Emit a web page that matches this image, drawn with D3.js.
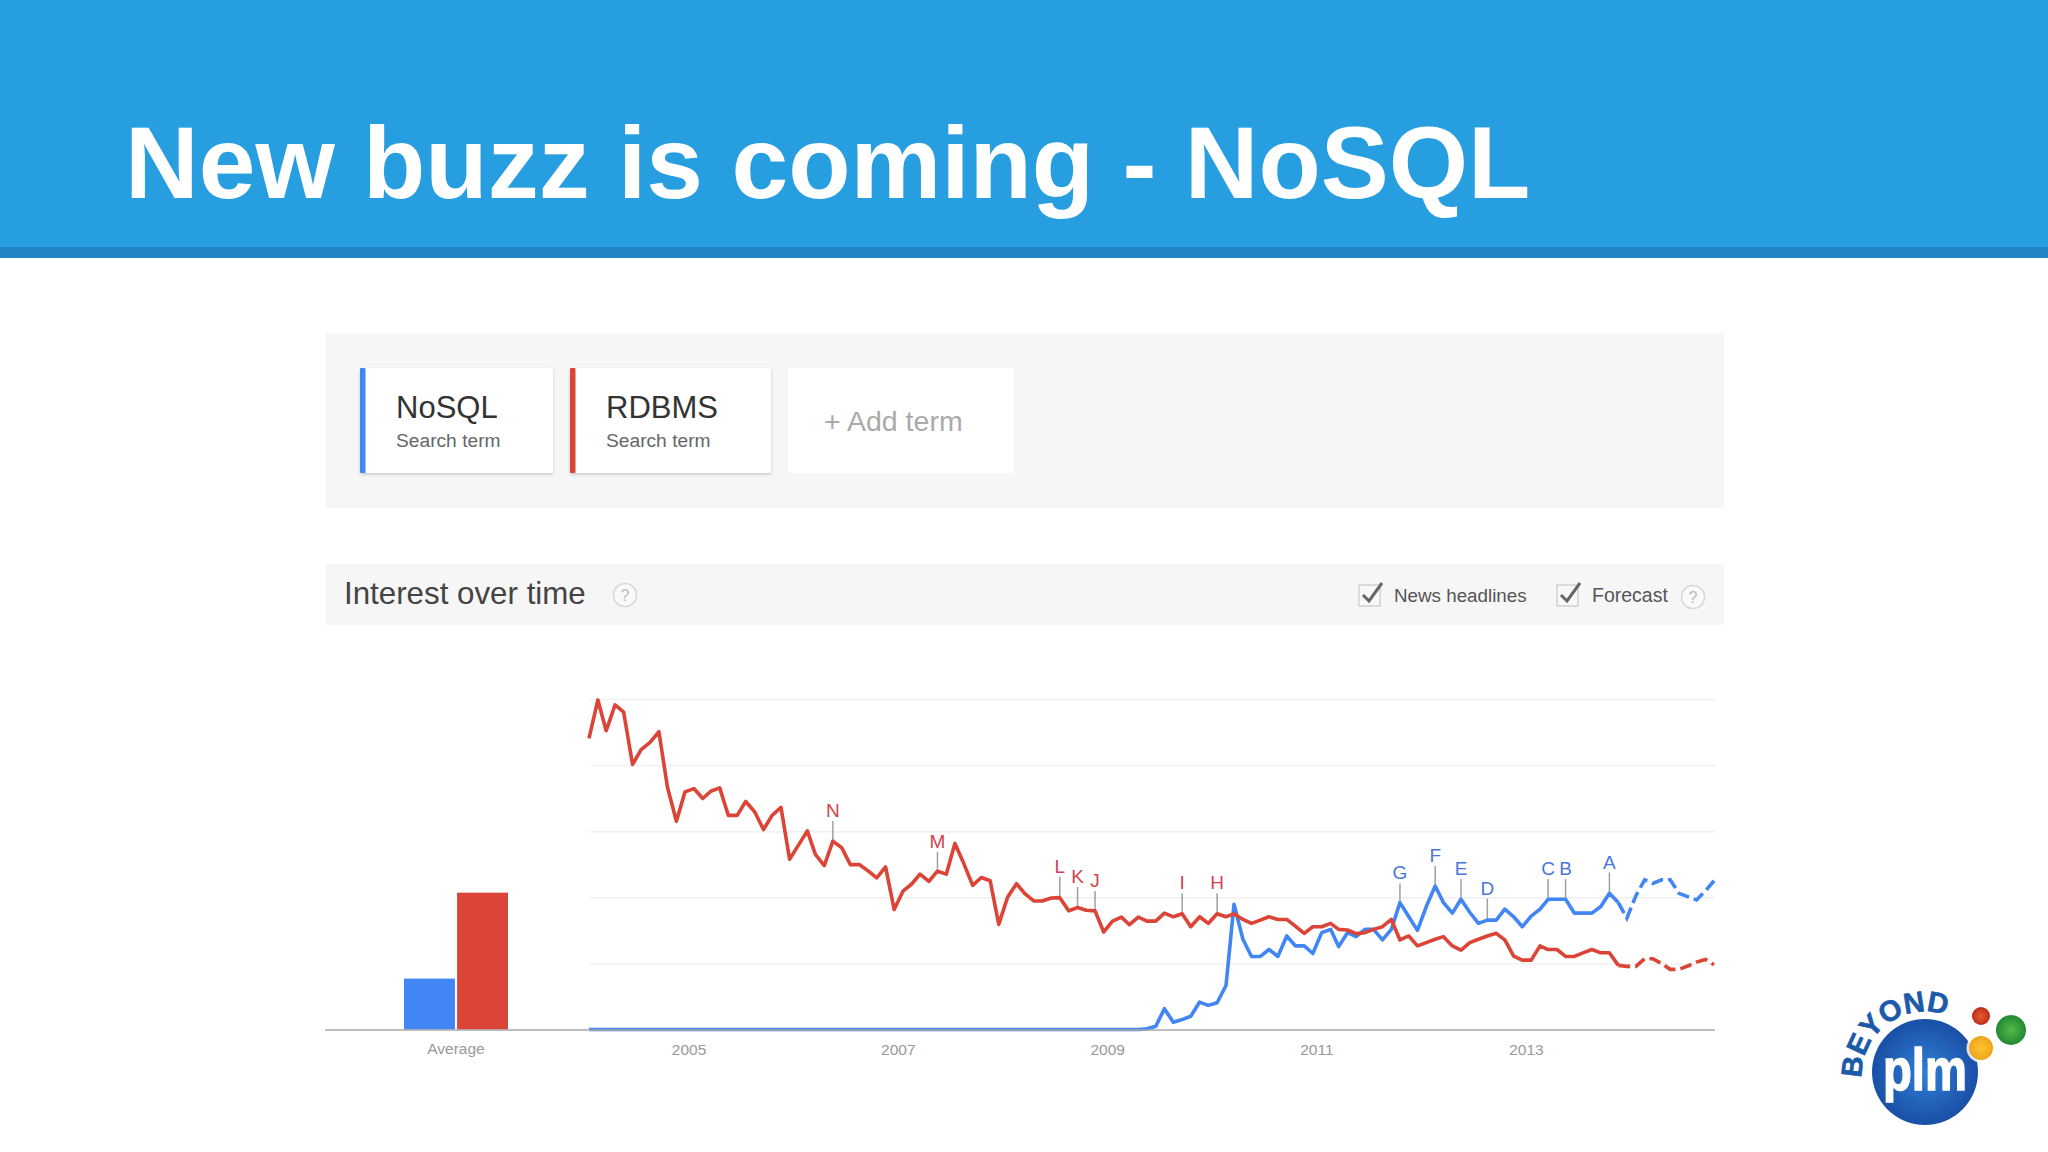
<!DOCTYPE html>
<html>
<head>
<meta charset="utf-8">
<script src="https://cdn.jsdelivr.net/npm/d3@7"></script>
<style>
  html, body { margin: 0; padding: 0; background: #fff; }
  svg { display: block; font-family: "Liberation Sans", Arial, sans-serif; }
</style>
</head>
<body>
<div id="chart"></div>
<script>
const title = "New buzz is coming - NoSQL"
const terms = ["NoSQL", "RDBMS"]
const averages = [15.4, 41.4]
const yearTicks = [2005, 2007, 2009, 2011, 2013]
const gridValues = [20, 40, 60, 80, 100]
const forecastStart = 118

// monthly values, Jan 2004 to Oct 2014
const rdbms = [
  88.1, 99.7, 90.4, 98.2, 96, 80.2, 84.7, 86.9, 90.1, 73.2, 63, 71.9,
  72.9, 69.9, 72.1, 73.1, 64.8, 64.8, 69, 65.9, 60.5, 64.8, 67.2, 51.5,
  55.8, 60.1, 53, 49.6, 57, 55, 49.9, 49.9, 48, 45.9, 49.2, 36.3,
  41.9, 44.1, 47, 44.8, 47.9, 47, 56.3, 50.2, 43.6, 46, 45, 31.8,
  40.1, 44.1, 41.1, 38.9, 38.9, 39.8, 39.9, 35.9, 36.9, 36.1, 35.9, 29.5,
  32.8, 34, 31.7, 34, 32.8, 32.8, 35.2, 34.1, 35, 31.1, 34.1, 32.1,
  35, 34.1, 35, 33.3, 32.1, 33.1, 34.1, 33.3, 33.3, 31.3, 29.1, 31.1,
  31.1, 32.1, 30.3, 30.1, 29, 29.3, 30.3, 31.1, 33.3, 27.1, 28.3, 25.3,
  26.3, 27.3, 28.1, 25.3, 24, 26.3, 27.3, 28.3, 29.1, 27.1, 22.2, 21,
  21, 25.3, 24.2, 24.2, 22.1, 22.1, 23.2, 24.2, 23.2, 23.2, 19.4, 19.1,
  19.1, 21.4, 21.4, 20, 18.2, 18.2, 19.2, 20.4, 21.2, 19.6
]
const nosql = [
  0, 0, 0, 0, 0, 0, 0, 0, 0, 0, 0, 0,
  0, 0, 0, 0, 0, 0, 0, 0, 0, 0, 0, 0,
  0, 0, 0, 0, 0, 0, 0, 0, 0, 0, 0, 0,
  0, 0, 0, 0, 0, 0, 0, 0, 0, 0, 0, 0,
  0, 0, 0, 0, 0, 0, 0, 0, 0, 0, 0, 0,
  0, 0, 0, 0, 0.2, 1, 6.3, 2.2, 3, 4, 8.3, 7.3,
  8.1, 13.3, 37.9, 27.3, 22.1, 22.1, 24.2, 22.1, 28.3, 25.3, 25.3, 23,
  29.3, 30.3, 25.1, 29.3, 28.1, 30.3, 30.3, 27.1, 30.3, 38.4, 34.1, 30,
  37.2, 43.4, 38.4, 35.2, 39.4, 35.4, 32.1, 33.1, 33.1, 36.4, 34.1, 31.1,
  34.3, 36.4, 39.4, 39.4, 39.4, 35.2, 35.2, 35.2, 37.2, 41.2, 38.4, 33.7,
  40.4, 45.3, 44.2, 45.3, 45.3, 41.2, 40.2, 39.2, 41.9, 45
]
const eventLetters = ["N", "M", "L", "K", "J", "I", "H", "G", "F", "E", "D", "C", "B", "A"]
const eventMonths = [28, 40, 54, 56, 58, 68, 72, 93, 97, 100, 103, 110, 112, 117]
const eventTops = [63.1, 53.7, 46.2, 43.1, 41.9, 41.2, 41.2, 44.2, 49.5, 45.5, 39.6, 45.5, 45.5, 47.5]
const eventSeries = [1, 1, 1, 1, 1, 1, 1, 0, 0, 0, 0, 0, 0, 0]

const colors = ["#4285f4", "#db4437"]
const letterColors = ["#4a76dc", "#d4424f"]

const months = d3.utcMonth.range(new Date(Date.UTC(2004, 0, 1)), new Date(Date.UTC(2014, 10, 1)))
  .map(month => d3.utcDay.offset(month, 15))

const svg = d3.select("#chart")
  .append("svg")
  .attr("width", 2048)
  .attr("height", 1152)
  .attr("viewBox", "0 0 2048 1152")

const defs = svg.append("defs")
const shadow = defs.append("filter").attr("id", "card-shadow").attr("x", "-10%").attr("y", "-10%").attr("width", "120%").attr("height", "125%")
shadow.append("feDropShadow").attr("dx", 0).attr("dy", 1.5).attr("stdDeviation", 1.5).attr("flood-color", "#000").attr("flood-opacity", 0.2)
const ball = defs.append("radialGradient").attr("id", "logo-ball")
ball.append("stop").attr("offset", "0%").attr("stop-color", "#2f7fd6")
ball.append("stop").attr("offset", "100%").attr("stop-color", "#1a4fa6")
const ballSmall = [["logo-red", "#e8602c", "#bb2a1c"], ["logo-green", "#58b848", "#1f8a34"], ["logo-yellow", "#fdc62e", "#f0a41e"]]
ballSmall.forEach(([id, inner, outer]) => {
  const gradient = defs.append("radialGradient").attr("id", id)
  gradient.append("stop").attr("offset", "0%").attr("stop-color", inner)
  gradient.append("stop").attr("offset", "100%").attr("stop-color", outer)
})
defs.append("path").attr("id", "logo-arc").attr("d", "M1862,1078 A63,63 0 0 1 1973,1034")

// header band
svg.append("rect").attr("x", 0).attr("y", 0).attr("width", 2048).attr("height", 248).attr("fill", "#279ee0")
svg.append("rect").attr("x", 0).attr("y", 247).attr("width", 2048).attr("height", 11).attr("fill", "#2085c2")
svg.append("text")
  .attr("x", 125)
  .attr("y", 198)
  .attr("font-size", 102)
  .attr("font-weight", 700)
  .attr("fill", "#fff")
  .text(title)

// search terms panel
svg.append("rect").attr("x", 326).attr("y", 333).attr("width", 1398).attr("height", 175).attr("fill", "#f6f6f7")
const cardX = [360, 570]
const cardWidth = [193, 201]
terms.forEach((term, i) => {
  svg.append("rect").attr("x", cardX[i]).attr("y", 368).attr("width", cardWidth[i]).attr("height", 105).attr("rx", 2)
    .attr("fill", "#fff").attr("filter", "url(#card-shadow)")
  svg.append("rect").attr("x", cardX[i]).attr("y", 368).attr("width", 5.5).attr("height", 105).attr("rx", 1).attr("fill", colors[i])
  svg.append("text").attr("x", cardX[i] + 36).attr("y", 418).attr("font-size", 31).attr("fill", "#333").text(term)
  svg.append("text").attr("x", cardX[i] + 36).attr("y", 447).attr("font-size", 19.2).attr("fill", "#666").text("Search term")
})
svg.append("rect").attr("x", 788).attr("y", 368).attr("width", 226).attr("height", 105).attr("rx", 2).attr("fill", "#fff")
svg.append("text").attr("x", 824).attr("y", 431).attr("font-size", 28.5).attr("fill", "#aaa").text("+ Add term")

// interest over time bar
svg.append("rect").attr("x", 326).attr("y", 564).attr("width", 1398).attr("height", 61).attr("fill", "#f6f6f7")
svg.append("text").attr("x", 344).attr("y", 604).attr("font-size", 31.3).attr("fill", "#444").text("Interest over time")

function helpIcon(cx, cy) {
  svg.append("circle").attr("cx", cx).attr("cy", cy).attr("r", 11.5).attr("fill", "#fafafa").attr("stroke", "#d8d8d8").attr("stroke-width", 1.5)
  svg.append("text").attr("x", cx).attr("y", cy + 6).attr("text-anchor", "middle").attr("font-size", 16).attr("fill", "#bbb").text("?")
}
function checkbox(x, y) {
  svg.append("rect").attr("x", x).attr("y", y).attr("width", 21).attr("height", 21).attr("fill", "#f8f8f8").attr("stroke", "#c8c8c8").attr("stroke-width", 1.2)
  svg.append("path").attr("d", `M${x + 4},${y + 10} L${x + 10},${y + 16} L${x + 23},${y - 2}`).attr("fill", "none").attr("stroke", "#666").attr("stroke-width", 3)
}
helpIcon(625, 595)
checkbox(1359, 585)
svg.append("text").attr("x", 1394).attr("y", 602).attr("font-size", 18.8).attr("fill", "#555").text("News headlines")
checkbox(1557, 585)
svg.append("text").attr("x", 1592).attr("y", 602).attr("font-size", 19.5).attr("fill", "#555").text("Forecast")
helpIcon(1693, 597)

// chart scales
const y = d3.scaleLinear().domain([0, 100]).range([1029.5, 699])
const x = d3.scaleUtc().domain([months[0], months[months.length - 1]]).range([589, 1714])
const xBar = d3.scaleBand().domain(terms).range([404, 508]).paddingInner(0.04)

svg.append("g")
  .attr("transform", "translate(590,0)")
  .call(d3.axisLeft(y).tickValues(gridValues).tickSize(-1125).tickFormat(""))
  .call(group => group.select(".domain").remove())
  .call(group => group.selectAll("line").attr("stroke", "#f0f0f1").attr("stroke-width", 1.5))

svg.append("g")
  .selectAll("rect")
  .data(terms)
  .join("rect")
  .attr("x", term => xBar(term))
  .attr("width", xBar.bandwidth())
  .attr("y", (term, i) => y(averages[i]))
  .attr("height", (term, i) => y(0) - y(averages[i]))
  .attr("fill", (term, i) => colors[i])

// event stems go under the lines
const seriesValues = [nosql, rdbms]
svg.append("g")
  .selectAll("line")
  .data(eventLetters)
  .join("line")
  .attr("x1", (letter, i) => x(months[eventMonths[i]]))
  .attr("x2", (letter, i) => x(months[eventMonths[i]]))
  .attr("y1", (letter, i) => y(eventTops[i]))
  .attr("y2", (letter, i) => y(seriesValues[eventSeries[i]][eventMonths[i]]))
  .attr("stroke", "#a0a0a0")
  .attr("stroke-width", 1.5)

svg.append("g")
  .selectAll("text")
  .data(eventLetters)
  .join("text")
  .attr("x", (letter, i) => x(months[eventMonths[i]]))
  .attr("y", (letter, i) => y(eventTops[i]) - 4)
  .attr("text-anchor", "middle")
  .attr("font-size", 19)
  .attr("fill", (letter, i) => letterColors[eventSeries[i]])
  .text(letter => letter)

const line = d3.line()
  .x(item => x(item.month))
  .y(item => y(item.value))

seriesValues.forEach((values, s) => {
  const points = values.map((value, i) => ({month: months[i], value}))
  svg.append("path")
    .datum(points.slice(0, forecastStart + 1))
    .attr("fill", "none")
    .attr("stroke", colors[s])
    .attr("stroke-width", 3.6)
    .attr("stroke-linejoin", "round")
    .attr("d", line)
  svg.append("path")
    .datum(points.slice(forecastStart))
    .attr("fill", "none")
    .attr("stroke", colors[s])
    .attr("stroke-width", 3.6)
    .attr("stroke-dasharray", "12,5")
    .attr("d", line)
})

// baseline and year labels
svg.append("line").attr("x1", 325).attr("x2", 1715).attr("y1", 1030).attr("y2", 1030).attr("stroke", "#a8a8a8").attr("stroke-width", 1.5)

const tickStyle = group => group
  .call(g => g.select(".domain").remove())
  .call(g => g.selectAll("line").remove())
  .call(g => g.selectAll("text").attr("fill", "#999").attr("font-size", 15.5).attr("font-family", "Liberation Sans"))

svg.append("g")
  .attr("transform", "translate(-1,1029.5)")
  .call(d3.axisBottom(x).tickValues(yearTicks.map(year => new Date(Date.UTC(year, 0, 1)))).tickFormat(d3.utcFormat("%Y")).tickPadding(8))
  .call(tickStyle)

svg.append("text").attr("x", 456).attr("y", 1054).attr("text-anchor", "middle")
  .attr("fill", "#999").attr("font-size", 15.5).text("Average")

// logo
const logo = svg.append("g")
logo.append("circle").attr("cx", 1925).attr("cy", 1072).attr("r", 53).attr("fill", "url(#logo-ball)")
logo.append("text").attr("font-size", 29).attr("font-weight", 700).attr("fill", "#1b5aa8")
  .attr("stroke", "#1b5aa8").attr("stroke-width", 0.6)
  .append("textPath").attr("href", "#logo-arc").text("BEYOND")
logo.append("text").attr("x", 1883).attr("y", 1090).attr("font-size", 60).attr("font-weight", 700).attr("fill", "#fff")
  .attr("stroke", "#fff").attr("stroke-width", 1.5)
  .attr("textLength", 84).attr("lengthAdjust", "spacingAndGlyphs").text("plm")
logo.append("circle").attr("cx", 1981).attr("cy", 1048).attr("r", 14.5).attr("fill", "#fff").attr("opacity", 0.85)
logo.append("circle").attr("cx", 1981).attr("cy", 1048).attr("r", 12).attr("fill", "url(#logo-yellow)")
logo.append("circle").attr("cx", 1981).attr("cy", 1016).attr("r", 9).attr("fill", "url(#logo-red)")
logo.append("circle").attr("cx", 2011).attr("cy", 1030).attr("r", 15).attr("fill", "url(#logo-green)")
</script>
</body>
</html>
